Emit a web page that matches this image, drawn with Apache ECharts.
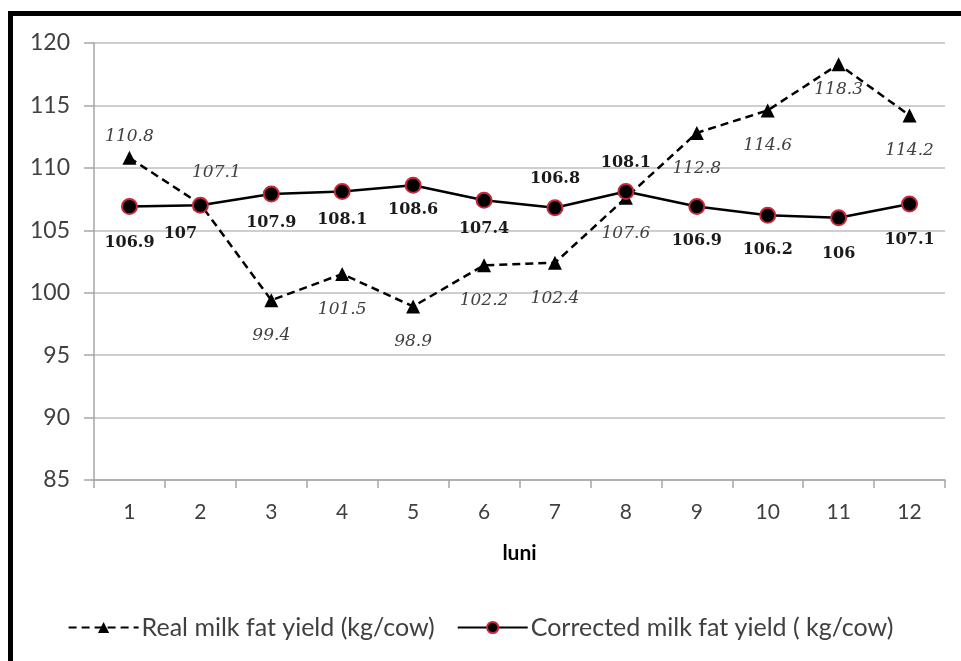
<!DOCTYPE html>
<html><head><meta charset="utf-8">
<script src="https://cdn.jsdelivr.net/npm/echarts@6/dist/echarts.min.js"></script>
<style>
html,body{margin:0;padding:0;background:#fff;}
#c{position:absolute;left:0;top:0;width:961px;height:661px;}
#frame{position:absolute;left:8px;top:11px;width:980px;height:700px;border-left:5px solid #000;border-top:5px solid #000;pointer-events:none;}
</style></head>
<body>
<div id="c"></div>
<div id="frame"></div>
<script>
const months = ['1','2','3','4','5','6','7','8','9','10','11','12'];
const realYield = [110.8, 107.1, 99.4, 101.5, 98.9, 102.2, 102.4, 107.6, 112.8, 114.6, 118.3, 114.2];
const correctedYield = [106.9, 107, 107.9, 108.1, 108.6, 107.4, 106.8, 108.1, 106.9, 106.2, 106, 107.1];
const yTicks = {min: 85, max: 120, interval: 5};
const seriesNames = ['Real milk fat yield (kg/cow)', 'Corrected milk fat yield ( kg/cow)'];

// label placement (style only)
const realLabelPos = ['top','top','bottom','bottom','bottom','bottom','bottom','bottom','bottom','bottom','bottom','bottom'];
const realLabelOff = [[0,14],[16,4],[0,0],[0,0],[0,0],[0,0],[0,0],[0,0],[0,0],[0,0],[0,-10],[0,0]];
const corrLabelPos = ['bottom','bottom','bottom','bottom','bottom','bottom','top','top','bottom','bottom','bottom','bottom'];
const corrLabelOff = [[0,8],[-20,0],[0,0],[0,0],[0,-4],[0,0],[0,0],[0,0],[0,6],[0,6],[0,8],[0,7]];

const chart = echarts.init(document.getElementById('c'));
const realData = realYield.map((v,i)=>({value:v,label:{position:realLabelPos[i],offset:realLabelOff[i]}}));
const corrData = correctedYield.map((v,i)=>({value:v,label:{position:corrLabelPos[i],offset:corrLabelOff[i]}}));
chart.setOption({
  animation:false,
  backgroundColor:'#fff',
  grid:{left:94,right:16,top:43,bottom:181,containLabel:false},
  legend:{
    bottom:16,left:'center',itemWidth:70,itemHeight:14,itemGap:22,
    textStyle:{fontFamily:'Lato',fontSize:25,color:'#404040',padding:[0,0,0,-2]},
    data:[seriesNames[0],seriesNames[1]]
  },
  xAxis:{
    type:'category',data:months,boundaryGap:true,
    name:'luni',nameLocation:'middle',nameGap:63,
    nameTextStyle:{fontFamily:'Lato',fontWeight:'bold',fontSize:21,color:'#000'},
    axisLine:{lineStyle:{color:'#a6a6a6',width:1.5}},
    axisTick:{show:true,length:8,lineStyle:{color:'#a6a6a6',width:1.5},alignWithLabel:false},
    axisLabel:{fontFamily:'Lato',fontSize:21,color:'#404040',margin:22}
  },
  yAxis:{
    type:'value',min:yTicks.min,max:yTicks.max,interval:yTicks.interval,
    axisLine:{show:true,lineStyle:{color:'#a6a6a6',width:1.5}},
    axisTick:{show:true,length:10,lineStyle:{color:'#a6a6a6',width:1.5}},
    splitLine:{lineStyle:{color:'#bfbfbf',width:1.5}},
    axisLabel:{fontFamily:'Lato',fontSize:23,color:'#404040',margin:24}
  },
  series:[
    {
      name:seriesNames[0],type:'line',data:realData,
      symbol:'triangle',symbolSize:14,
      lineStyle:{color:'#000',width:2.5,type:[8,5]},
      itemStyle:{color:'#000'},
      label:{show:true,distance:20,fontFamily:'DejaVu Serif',fontStyle:'italic',fontSize:17,color:'#404040'},
      z:3
    },
    {
      name:seriesNames[1],type:'line',data:corrData,
      symbol:'circle',symbolSize:15,
      lineStyle:{color:'#000',width:2.5},
      itemStyle:{color:'#000',borderColor:'#c8283a',borderWidth:2},
      label:{show:true,distance:12,fontFamily:'DejaVu Serif',fontWeight:'bold',fontSize:16,color:'#1a1a1a'},
      z:4
    }
  ]
});
</script>
</body></html>
